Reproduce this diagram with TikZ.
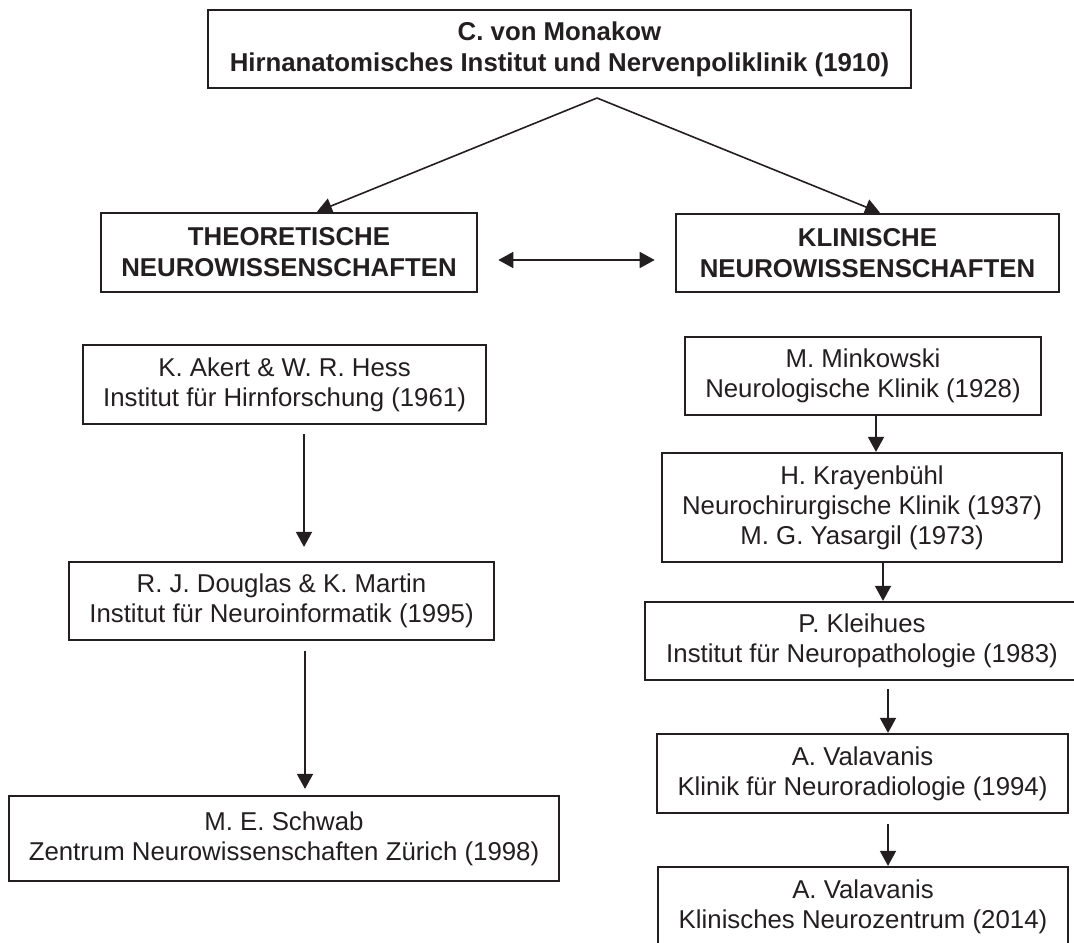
\documentclass[tikz,border=0pt]{standalone}
\usepackage{fontspec}
\setmainfont{Liberation Sans}
\usepackage{tikz}
\usetikzlibrary{arrows.meta}
\definecolor{inkBlack}{HTML}{231F20}

\begin{document}
\begin{tikzpicture}[
  x=0.5pt,
  y=-0.5pt,
  every node/.style={
    font=\fontsize{12.9}{15}\selectfont,
    text=inkBlack,
    align=center,
    inner sep=0pt,
  },
  unit/.style={
    draw=inkBlack,
    line width=1.1pt,
  },
  head/.style={
    unit,
    line width=1.3pt,
    font=\fontsize{12.9}{15.5}\selectfont\bfseries,
  },
  boxsize/.style 2 args={
    minimum width=#1*0.5pt,
    minimum height=#2*0.5pt,
  },
  flow/.style={
    draw=inkBlack,
    line width=0.8pt,
    -{Triangle[length=7.5pt,width=8pt]},
  }
]
\useasboundingbox (0,0) rectangle (1074,942);
\node[head,boxsize={703}{78}] (monakow) at (559.5,49) {C. von Monakow\\Hirnanatomisches Institut und Nervenpoliklinik (1910)};
\node[head,boxsize={376}{79}] (theo) at (289,252.5) {THEORETISCHE\\NEUROWISSENSCHAFTEN};
\node[head,boxsize={383}{78}] (klin) at (867.5,253) {KLINISCHE\\NEUROWISSENSCHAFTEN};
\node[unit,boxsize={403}{79}] (akert) at (284.5,384.5) {K. Akert \& W. R. Hess\\Institut für Hirnforschung (1961)};
\node[unit,boxsize={425}{78}] (douglas) at (281.5,601) {R. J. Douglas \& K. Martin\\Institut für Neuroinformatik (1995)};
\node[unit,boxsize={550}{85}] (schwab) at (284,838.5) {M. E. Schwab\\Zentrum Neurowissenschaften Zürich (1998)};
\node[unit,boxsize={356}{78}] (minkowski) at (863,376) {M. Minkowski\\Neurologische Klinik (1928)};
\node[unit,boxsize={400}{109}] (kray) at (862,507.5) {H. Krayenbühl\\Neurochirurgische Klinik (1937)\\M. G. Yasargil (1973)};
\node[unit,boxsize={434}{78}] (kleihues) at (862,641) {P. Kleihues\\Institut für Neuropathologie (1983)};
\node[unit,boxsize={411}{79}] (vala1) at (862.5,773.5) {A. Valavanis\\Klinik für Neuroradiologie (1994)};
\node[unit,boxsize={410}{80}] (vala2) at (863,907) {A. Valavanis\\Klinisches Neurozentrum (2014)};
\coordinate (apex) at (597,98);
\draw[flow] (apex) -- (317,0 |- theo.north);
\draw[flow] (apex) -- (880,0 |- klin.north);
\draw[flow,{Triangle[length=7.5pt,width=8pt]}-{Triangle[length=7.5pt,width=8pt]},shorten <=10pt,shorten >=10pt]
  (theo.east |- 0,260) -- (klin.west |- 0,260);
\foreach \from/\to/\x/\gapa/\gapb in {akert/douglas/304/4.5pt/7pt,douglas/schwab/305/5pt/3pt,minkowski/kray/876/0pt/0pt,kray/kleihues/883/0pt/0pt,kleihues/vala1/888/4pt/0pt,vala1/vala2/888/5pt/0pt}
  \draw[flow,shorten <=\gapa,shorten >=\gapb] (\x,0 |- \from.south) -- (\x,0 |- \to.north);
\end{tikzpicture}
\end{document}
